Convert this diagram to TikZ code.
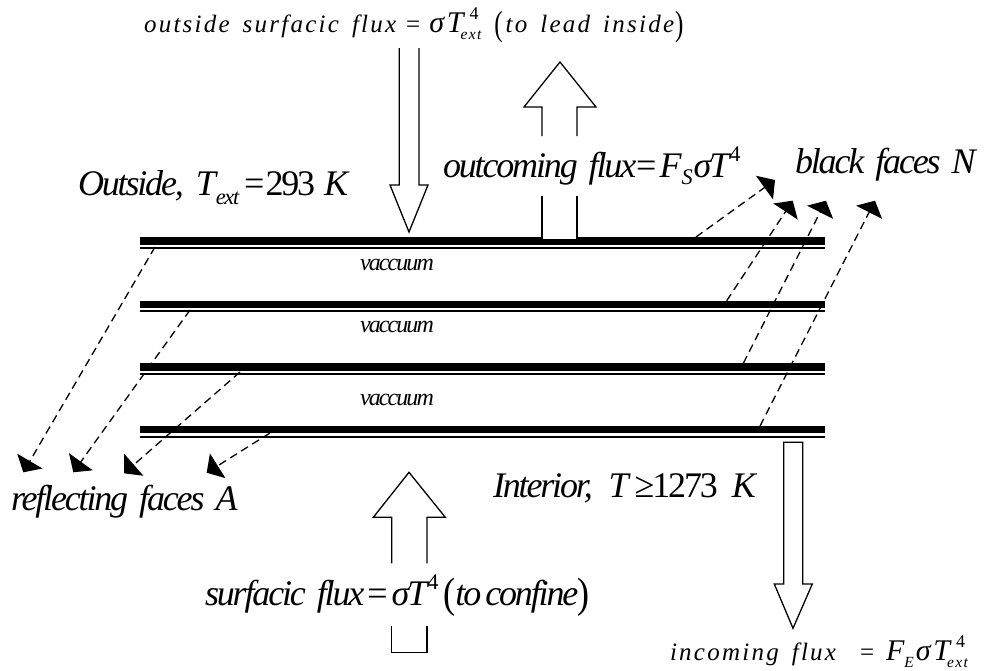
\documentclass[tikz,border=0pt]{standalone}
\usepackage{fontspec}
\usetikzlibrary{arrows.meta}
\setmainfont{Liberation Serif}
\newfontfamily\tightf{Liberation Serif}[LetterSpace=-6]
\newfontfamily\widef{Liberation Serif}[LetterSpace=9]
\newfontfamily\tinyf{Liberation Serif}[LetterSpace=-8]
\newcommand{\bigtxt}{\fontsize{36}{38}\selectfont\tightf\itshape\spaceskip=11pt\relax}
\newcommand{\smalltxt}{\fontsize{25}{27}\selectfont\widef\itshape\spaceskip=13pt\relax}
\newcommand{\tinytxt}{\fontsize{24}{26}\selectfont\tinyf\itshape}
\newcommand{\supsub}[2]{\leavevmode\rlap{\kern9pt\raisebox{.52em}{\scalebox{.72}{#1}}}\raisebox{-.3em}{\scalebox{.62}{#2}}}
\newcommand{\up}[1]{{\upshape #1}}
\newcommand{\tallparen}[1]{\raisebox{-.12em}{\scalebox{1}[1.4]{\up{#1}}}}
\newcommand{\midparen}[1]{\raisebox{-.06em}{\scalebox{1}[1.18]{\up{#1}}}}
\tikzset{
  lab/.style={anchor=base west,inner sep=0pt,outer sep=0pt},
  bigl/.style={lab,font=\bigtxt},
  smalll/.style={lab,font=\smalltxt},
  tinyl/.style={anchor=base,inner sep=0pt,font=\tinytxt},
  outline/.style={draw=black,line width=1.3pt,line join=miter},
  leader/.style={line width=1.3pt,dash pattern=on 8pt off 5pt,-{Triangle[length=13pt,width=29pt]}}
}
\begin{document}
\begin{tikzpicture}[x=1pt,y=-1pt]
\useasboundingbox (0,0) rectangle (991,670);
% layers
\foreach \ya/\yb/\yc/\yd in {237.3/244.7/246.7/249,300.7/307.7/310/312.3,363.3/370.7/372.7/375,426/433.3/435.7/438}{
  \fill[black] (140,\ya) rectangle (825,\yb);
  \fill[black] (140,\yc) rectangle (825,\yd);
}
% block arrows
\draw[outline] (399.3,48) -- (399.3,185) -- (390,185) -- (409,232) -- (428,185) -- (419,185) -- (419,48);
\draw[outline] (542,136) -- (542,107) -- (524,107) -- (560,62) -- (596,107) -- (577,107) -- (577,136);
\draw[outline,fill=white] (542,196) -- (542,240) -- (577,240) -- (577,196);
\draw[outline] (391.7,563.3) -- (391.7,517.3) -- (373.3,517.3) -- (409,472.3) -- (445.3,517.3) -- (427,517.3) -- (427,563.3);
\draw[outline] (391.7,626) -- (391.7,652.3) -- (427,652.3) -- (427,626);
\draw[outline,fill=white] (783.7,442.3) -- (783.7,584) -- (774.3,584) -- (793,628.3) -- (812.3,584) -- (802.7,584) -- (802.7,442.3) -- cycle;
% leader ends
\coordinate (a0) at (696,237);   \coordinate (a1) at (775,180);
\coordinate (b0) at (726.7,300.7); \coordinate (b1) at (792.7,200.7);
\coordinate (c0) at (743.3,363.3); \coordinate (c1) at (826,200.7);
\coordinate (d0) at (760,426);   \coordinate (d1) at (875,200.7);
\coordinate (e0) at (155,247);   \coordinate (e1) at (23.3,472.3);
\coordinate (f0) at (190,310);   \coordinate (f1) at (73.3,472.3);
\coordinate (g0) at (240,372);   \coordinate (g1) at (124,473.3);
\coordinate (h0) at (270,433);   \coordinate (h1) at (206.7,472.7);
\foreach \n in {a,b,c,d,e,f,g,h}{\draw[leader] (\n0) -- (\n1);}
% labels
\node[smalll] (t1) at (144,32) {outside surfacic flux\kern10pt\up{=}\kern9pt\scalebox{1.2}{σT}\kern-3pt\supsub{\up{4}}{ext}\kern13pt\tallparen{(}\kern3pt to lead inside\kern1pt\tallparen{)}};
\node[bigl] (t2) at (443,177) {outcoming flux\up{=}\kern3pt F\raisebox{-.2em}{\scalebox{.62}{S}}\kern1pt σT\raisebox{.42em}{\scalebox{.62}{\up{4}}}};
\node[bigl] (t3) at (78,195) {Outside,\kern12pt T\raisebox{-.25em}{\scalebox{.62}{ext}}\kern5pt\up{=}\kern1pt\up{293}\kern-2pt\ K};
\node[bigl] (t4) at (795,173) {black faces N};
\node[tinyl] (v1) at (397,270) {vaccuum};
\node[tinyl] (v2) at (397,332) {vaccuum};
\node[tinyl] (v3) at (397,405) {vaccuum};
\node[bigl] (t5) at (11,510) {reflecting faces A};
\node[bigl] (t6) at (493,497) {Interior,\kern16pt T\,\up{≥}\up{1273}\kern3pt\ K};
\node[bigl] (t7) at (205,605) {surfacic flux\kern3pt\up{=}\kern4pt σT\raisebox{.42em}{\scalebox{.62}{\up{4}}}\kern5pt\midparen{(}{\spaceskip=4pt\relax to confine}\kern-1pt\midparen{)}};
\node[smalll] (t8) at (670,660) {incoming flux\kern24pt\up{=}\kern12pt\scalebox{1.2}{F}\raisebox{-.3em}{\scalebox{.62}{E}}\kern2pt\scalebox{1.2}{σT}\kern-3pt\supsub{\up{4}}{ext}};
\end{tikzpicture}
\end{document}
